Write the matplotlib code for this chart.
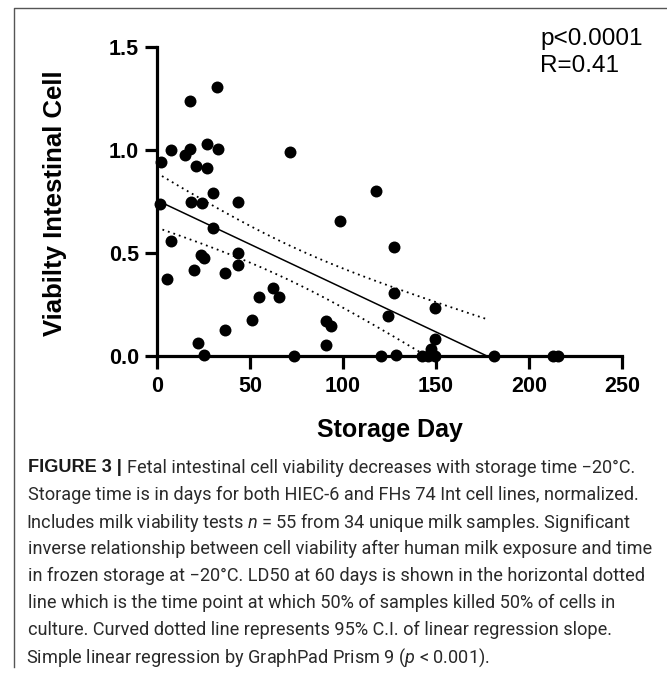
import numpy as np
import matplotlib
matplotlib.use("Agg")
import matplotlib.pyplot as plt
from matplotlib.lines import Line2D
from matplotlib import font_manager as fm

# ---- data ----
storage_day = [2, 7.5, 15, 17.7, 17.7, 32.4, 26.7, 32.6, 20.8, 26.7, 29.9, 18.3, 24, 43.7,
               1.6, 71.5, 30, 7.5, 5.2, 20.1, 23.5, 25.3, 36.7, 43.7, 43.7, 55, 62.5, 65.8,
               50.9, 36.7, 21.9, 25.3, 73.5, 117.6, 98.4, 127.4, 127.4, 149.5, 124.4, 90.7,
               93.5, 90.7, 149.5, 147.3, 120.4, 128.3, 142.3, 145.9, 149.5, 181.4, 213, 215.8]
viability = [0.94, 1.0, 0.976, 1.003, 1.238, 1.304, 1.029, 1.003, 0.922, 0.911, 0.79, 0.746, 0.741, 0.746,
             0.738, 0.992, 0.62, 0.56, 0.374, 0.417, 0.49, 0.474, 0.401, 0.498, 0.442, 0.285, 0.328, 0.285,
             0.175, 0.126, 0.065, 0.005, 0.0, 0.802, 0.657, 0.527, 0.307, 0.231, 0.194, 0.17,
             0.147, 0.053, 0.083, 0.032, 0.0, 0.005, 0.0, 0.0, 0.0, 0.0, 0.0, 0.0]
x_ticks = [0, 50, 100, 150, 200, 250]
y_ticks = [0.0, 0.5, 1.0, 1.5]
y_tick_labels = ["0.0", "0.5", "1.0", "1.5"]
x_label = "Storage Day"
y_label = "Viabilty Intestinal Cell"
stats_text = "p<0.0001\nR=0.41"
caption_bold = "FIGURE 3 | "
caption_lines = [
    "Fetal intestinal cell viability decreases with storage time \u221220\u00b0C.",
    "Storage time is in days for both HIEC-6 and FHs 74 Int cell lines, normalized.",
    "Includes milk viability tests $n$ = 55 from 34 unique milk samples. Significant",
    "inverse relationship between cell viability after human milk exposure and time",
    "in frozen storage at \u221220\u00b0C. LD50 at 60 days is shown in the horizontal dotted",
    "line which is the time point at which 50% of samples killed 50% of cells in",
    "culture. Curved dotted line represents 95% C.I. of linear regression slope.",
    "Simple linear regression by GraphPad Prism 9 ($p$ < 0.001).",
]


def pick(cands):
    for c in cands:
        try:
            fm.findfont(fm.FontProperties(family=c), fallback_to_default=False)
            return c
        except Exception:
            continue
    return 'DejaVu Sans'


sans = pick(['Liberation Sans', 'Arimo', 'Arial', 'Helvetica', 'Nimbus Sans', 'Roboto'])
cap_font = pick(['Roboto', 'Open Sans', 'Liberation Sans'])

plt.rcParams['font.family'] = [sans, 'DejaVu Sans']
plt.rcParams['mathtext.fontset'] = 'custom'
plt.rcParams['mathtext.rm'] = cap_font
plt.rcParams['mathtext.it'] = cap_font + ':italic'
plt.rcParams['mathtext.bf'] = cap_font + ':bold'

W, H = 667, 675
fig = plt.figure(figsize=(W / 100, H / 100), dpi=100)
ax = fig.add_axes([157 / W, 1 - 356 / H, (622 - 157) / W, (356 - 47) / H])

x = np.array(storage_day, dtype=float)
y = np.array(viability, dtype=float)

# linear regression + 95% confidence band
n = len(x)
slope, intercept = np.polyfit(x, y, 1)
resid = y - (intercept + slope * x)
s = np.sqrt(np.sum(resid ** 2) / (n - 2))
xbar = x.mean()
sxx = np.sum((x - xbar) ** 2)
tval = 2.009
x_end = -intercept / slope
xf = np.linspace(0, x_end, 300)
yf = intercept + slope * xf
half = tval * s * np.sqrt(1 / n + (xf - xbar) ** 2 / sxx)

ax.plot(xf, yf, color='black', lw=1.1, zorder=2)
ax.plot(xf, yf + half, color='black', lw=1.3, ls=(0, (1, 2.2)), zorder=2)
ax.plot(xf, yf - half, color='black', lw=1.3, ls=(0, (1, 2.2)), zorder=2)

ax.scatter(x, y, s=74, color='black', zorder=3, clip_on=False, linewidths=0)

ax.set_xlim(0, 250)
ax.set_ylim(0, 1.5)
ax.set_xticks(x_ticks)
ax.set_xticklabels([str(t) for t in x_ticks])
ax.set_yticks(y_ticks)
ax.set_yticklabels(y_tick_labels)
for sp in ['top', 'right']:
    ax.spines[sp].set_visible(False)
for sp in ['left', 'bottom']:
    ax.spines[sp].set_linewidth(2.3)
ax.tick_params(axis='both', direction='out', length=9, width=2.3, labelsize=15.5)
ax.tick_params(axis='x', pad=5.5)
ax.tick_params(axis='y', pad=4)
for lab in ax.get_xticklabels() + ax.get_yticklabels():
    lab.set_fontweight('bold')

fig.text(390 / W, 1 - 430 / H, x_label, fontsize=18, fontweight='bold', ha='center', va='center')
fig.text(55 / W, 1 - 203 / H, y_label, fontsize=18.5, fontweight='bold', ha='center', va='center',
         rotation=90)

fig.text(540 / W, 1 - 28 / H, stats_text, fontsize=17.5, ha='left', va='top', linespacing=1.3)

# frame lines
fig.add_artist(Line2D([14 / W, 14 / W, 1.0], [1 - 667 / H, 1 - 8 / H, 1 - 8 / H],
                      transform=fig.transFigure, color='#555555', lw=1.0))

# caption
cap_fs = 12.0
cap_color = '#2a2a2a'
cap_left = 28
cap_top = 466
cap_step = 27.0
renderer = fig.canvas.get_renderer()
tb = fig.text(cap_left / W, 1 - cap_top / H, caption_bold, fontsize=cap_fs, fontweight='bold',
              ha='left', va='center_baseline', family=[sans, 'DejaVu Sans'], color='#1a1a1a')
texts = []
for i, line in enumerate(caption_lines):
    yy = cap_top + i * cap_step
    t = fig.text(cap_left / W, 1 - yy / H, line, fontsize=cap_fs, ha='left', va='center_baseline',
                 family=[cap_font, 'DejaVu Sans'], color=cap_color)
    texts.append(t)
# scale caption so the second line spans the width seen in the reference
w2 = texts[1].get_window_extent(renderer).width
scale = (637 - cap_left) / w2
tb.set_fontsize(cap_fs * scale)
for t in texts:
    t.set_fontsize(cap_fs * scale)
bw = tb.get_window_extent(renderer).width
texts[0].set_x((cap_left + bw) / W)
for line, t in zip(caption_lines, texts):
    if '$' in line:
        t.set_x((cap_left - 1.5) / W)

fig.savefig("out.png", dpi=100)
